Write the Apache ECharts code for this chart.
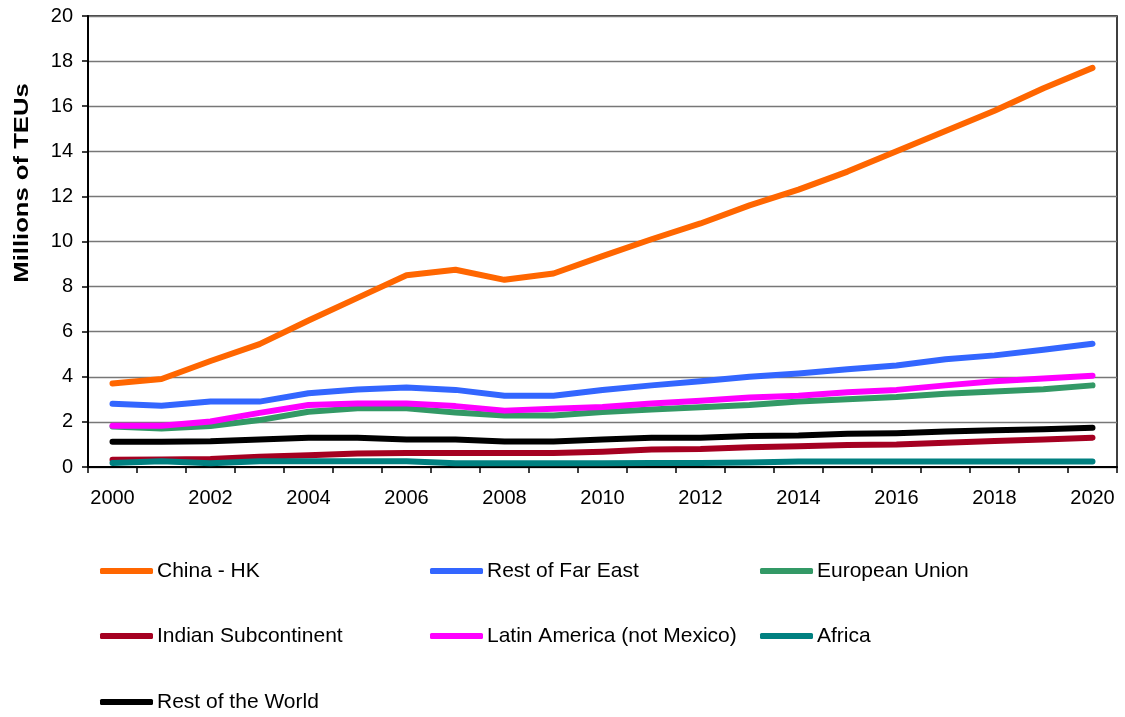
<!DOCTYPE html>
<html>
<head>
<meta charset="utf-8">
<title>Container volumes by region</title>
<script src="https://cdn.jsdelivr.net/npm/echarts@6/dist/echarts.min.js"></script>
<style>
  html, body { margin: 0; padding: 0; background: #fff; }
  #chart { width: 1125px; height: 717px; }
</style>
</head>
<body>
<div id="chart"></div>
<script>
// Years on the category axis
const years = ['2000','2001','2002','2003','2004','2005','2006','2007','2008','2009','2010',
               '2011','2012','2013','2014','2015','2016','2017','2018','2019','2020'];

// Millions of TEUs per region
const chinaHK     = [3.7, 3.9, 4.7, 5.45, 6.5, 7.5, 8.5, 8.75, 8.3, 8.58, 9.35, 10.1, 10.8, 11.6, 12.3, 13.1, 14.0, 14.9, 15.8, 16.8, 17.7];
const restFarEast = [2.8, 2.72, 2.9, 2.9, 3.27, 3.44, 3.53, 3.42, 3.16, 3.16, 3.41, 3.62, 3.8, 4.0, 4.15, 4.33, 4.5, 4.78, 4.95, 5.2, 5.47];
const europeanUn  = [1.8, 1.71, 1.82, 2.08, 2.45, 2.6, 2.6, 2.42, 2.28, 2.28, 2.44, 2.55, 2.65, 2.75, 2.9, 3.0, 3.1, 3.25, 3.35, 3.45, 3.62];
const indianSub   = [0.32, 0.33, 0.36, 0.45, 0.52, 0.6, 0.62, 0.62, 0.62, 0.62, 0.68, 0.78, 0.8, 0.88, 0.92, 0.98, 1.0, 1.08, 1.15, 1.22, 1.3];
const latinAm     = [1.83, 1.83, 2.02, 2.4, 2.75, 2.82, 2.82, 2.7, 2.5, 2.58, 2.66, 2.82, 2.94, 3.08, 3.16, 3.32, 3.42, 3.62, 3.8, 3.92, 4.05];
const africa      = [0.18, 0.25, 0.17, 0.25, 0.25, 0.25, 0.25, 0.17, 0.17, 0.17, 0.17, 0.18, 0.18, 0.2, 0.24, 0.24, 0.24, 0.24, 0.24, 0.24, 0.24];
const restWorld   = [1.12, 1.12, 1.14, 1.22, 1.3, 1.3, 1.22, 1.22, 1.13, 1.13, 1.22, 1.3, 1.3, 1.38, 1.4, 1.47, 1.5, 1.57, 1.63, 1.67, 1.74];

// Y axis ticks
const yMin = 0, yMax = 20, yStep = 2;

const FONT = '"Liberation Sans", Arial, sans-serif';

const seriesDefs = [
  { name: 'China - HK',                 data: chinaHK,     color: '#FF6600' },
  { name: 'Rest of Far East',           data: restFarEast, color: '#3366FF' },
  { name: 'European Union',             data: europeanUn,  color: '#339966' },
  { name: 'Indian Subcontinent',        data: indianSub,   color: '#A50021' },
  { name: 'Latin America (not Mexico)', data: latinAm,     color: '#FF00FF' },
  { name: 'Africa',                     data: africa,      color: '#008080' },
  { name: 'Rest of the World',          data: restWorld,   color: '#000000' }
];

// Legend laid out as a three-column table
const legendCols = [100, 430, 760];
const legendRows = [571, 636, 702];

function legendItem(i) {
  const col = i % 3, row = Math.floor(i / 3);
  return {
    left: legendCols[col],
    top: legendRows[row] - 11,
    padding: 0,
    itemWidth: 53,
    itemHeight: 6,
    icon: 'roundRect',
    selectedMode: false,
    textStyle: { fontFamily: FONT, fontSize: 21, color: '#000', lineHeight: 22, padding: [0, 0, 0, -1] },
    data: [seriesDefs[i].name]
  };
}

const chart = echarts.init(document.getElementById('chart'), null, { renderer: 'canvas' });

chart.setOption({
  animation: false,
  backgroundColor: '#fff',
  grid: {
    left: 88, right: 8, top: 16, bottom: 250,
    show: true, borderColor: '#000', borderWidth: 1.5, backgroundColor: 'transparent'
  },
  legend: seriesDefs.map((_, i) => legendItem(i)),
  graphic: [{
    type: 'text',
    x: 22, y: 183,
    rotation: Math.PI / 2,
    scaleX: 1.22,
    style: {
      text: 'Millions of TEUs',
      fontFamily: FONT, fontSize: 21, fontWeight: 'bold', fill: '#000',
      align: 'center', verticalAlign: 'middle'
    }
  }],
  xAxis: {
    type: 'category',
    data: years,
    boundaryGap: true,
    axisLine: { lineStyle: { color: '#000', width: 2 } },
    axisTick: { show: true, interval: 0, length: 6, lineStyle: { color: '#000', width: 1.5 } },
    axisLabel: { interval: 1, margin: 21, fontFamily: FONT, fontSize: 20, color: '#000' },
    splitLine: { show: false }
  },
  yAxis: {
    type: 'value',
    min: yMin, max: yMax, interval: yStep,
    axisLine: { show: true, lineStyle: { color: '#000', width: 2 } },
    axisTick: { show: true, length: 6, lineStyle: { color: '#000', width: 1.5 } },
    axisLabel: { margin: 15, fontFamily: FONT, fontSize: 20, color: '#000' },
    splitLine: { show: true, lineStyle: { color: '#777', width: 1.3 } }
  },
  series: seriesDefs.map(s => ({
    name: s.name,
    type: 'line',
    data: s.data,
    symbol: 'none',
    smooth: false,
    color: s.color,
    lineStyle: { color: s.color, width: 6, cap: 'round', join: 'round' },
    itemStyle: { color: s.color }
  }))
});
</script>
</body>
</html>
